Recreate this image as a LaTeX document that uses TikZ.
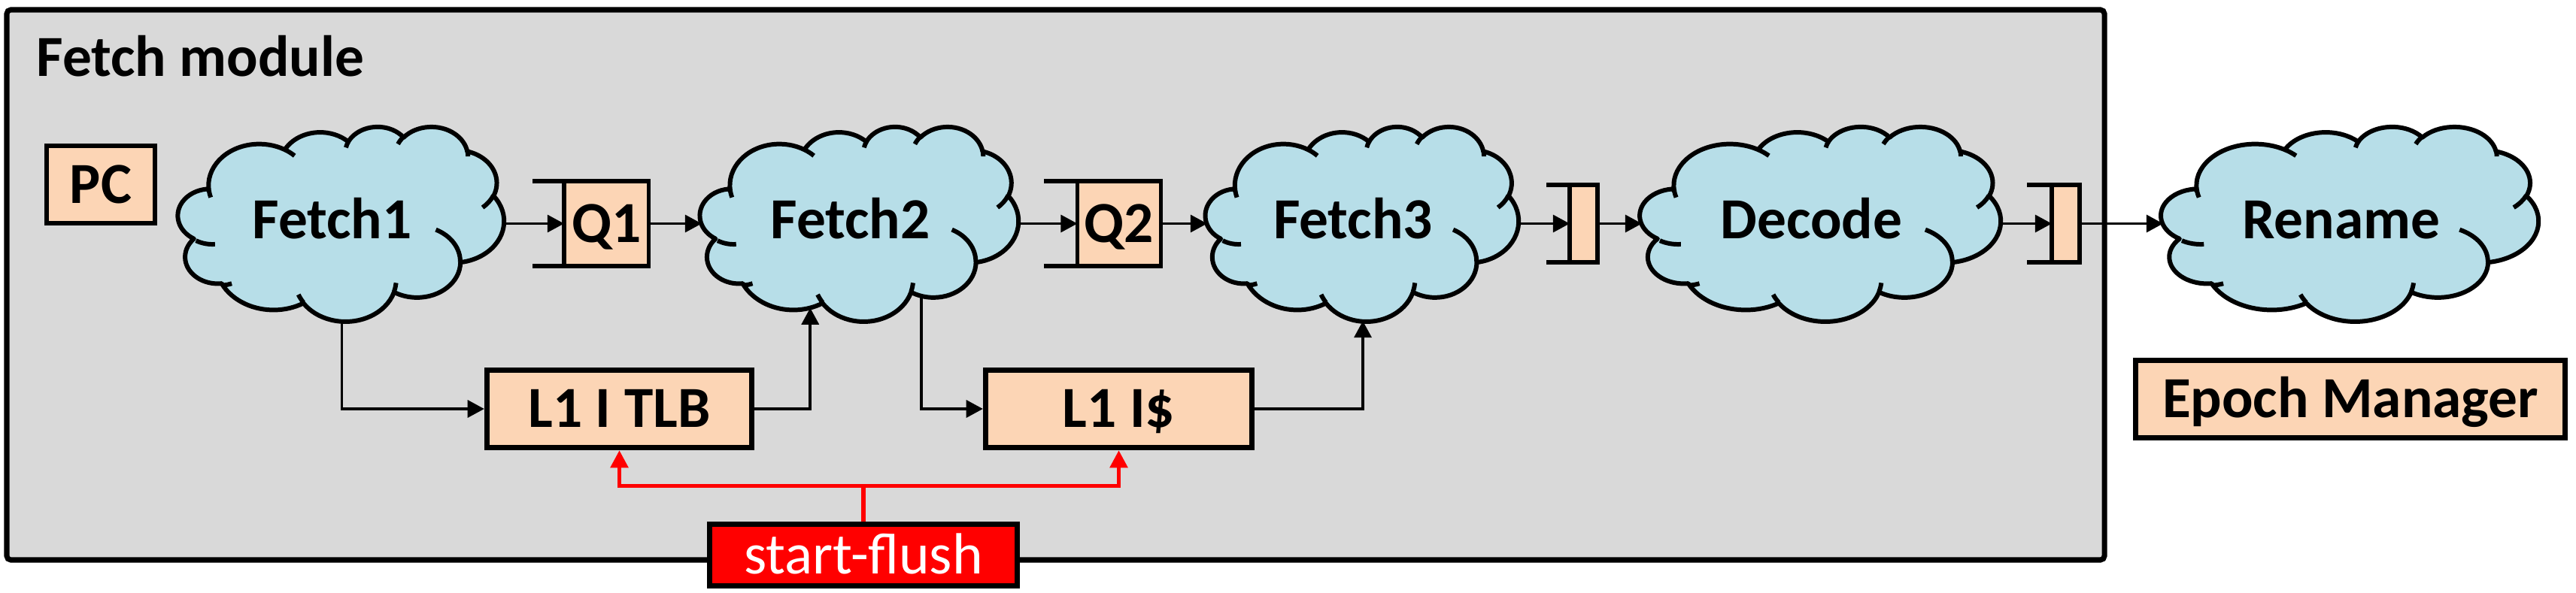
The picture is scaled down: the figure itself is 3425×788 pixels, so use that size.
\documentclass[tikz,border=0pt]{standalone}
\usepackage{fontspec}
\setmainfont{Carlito}
\usetikzlibrary{arrows.meta}
\definecolor{cloudfill}{RGB}{183,222,232}
\definecolor{boxfill}{RGB}{252,213,181}
\definecolor{bggray}{RGB}{217,217,217}
\definecolor{flushred}{RGB}{255,0,0}

% arc in DrawingML style: wR, hR, start angle, sweep (visual angles, degrees)
\newcommand\pparc[4]{%
  \pgfextra{%
    \pgfmathsetmacro\ppTa{atan2((#1)*sin(#3),(#2)*cos(#3))}%
    \pgfmathsetmacro\ppTb{atan2((#1)*sin((#3)+(#4)),(#2)*cos((#3)+(#4)))}%
    \pgfmathsetmacro\ppTb{\ppTb+360*(\ppTb<\ppTa)}%
    \global\let\ppTa\ppTa \global\let\ppTb\ppTb}%
  arc[start angle=\ppTa, end angle=\ppTb, x radius=#1, y radius=#2]}

\newcommand\ppcloudpath{(3.900,14.370)
  \pparc{6.753}{9.190}{-190.48748}{123.78053}
  \pparc{5.333}{7.267}{-144.10238}{89.94523}
  \pparc{4.365}{5.945}{-145.80792}{99.72302}
  \pparc{4.857}{6.595}{-130.98607}{117.24173}
  \pparc{5.333}{7.273}{-78.70888}{109.02692}
  \pparc{6.775}{9.220}{-46.26725}{130.269}
  \pparc{5.785}{7.867}{0.62502}{114.03333}
  \pparc{6.752}{9.215}{22.4516}{115.17255}
  \pparc{7.720}{10.543}{66.24263}{79.8114}
  \pparc{4.360}{5.918}{-274.94208}{146.73557}
  \pparc{4.345}{5.945}{-246.8285}{152.51885} -- cycle}

\newcommand\ppcloudhooks{(4.693,26.177) \pparc{4.345}{5.945}{86.742}{26.4295}
  (6.928,34.899) \pparc{4.360}{5.918}{73.61047}{11.44747}
  (16.478,39.090) \pparc{6.752}{9.215}{137.62415}{14.0811}
  (28.827,34.751) \pparc{6.752}{9.215}{6.45327}{15.99835}
  (34.129,22.954) \pparc{5.785}{7.867}{-70.29235}{70.91737}
  (41.798,15.354) \pparc{5.333}{7.273}{30.31803}{27.7515}
  (38.324,5.426) \pparc{4.857}{6.595}{-13.74433}{14.8589}
  (29.078,3.952) \pparc{4.857}{6.595}{-149.18145}{18.19537}
  (22.141,4.720) \pparc{4.365}{5.945}{-163.49427}{17.68635}
  (14.000,5.192) \pparc{6.753}{9.190}{-66.70695}{12.31935}
  (4.127,15.789) \pparc{6.753}{9.190}{157.65435}{11.85817}}

% name, left, top, width, height, label  (pixels, y down)
\newcommand\pcloud[6]{%
  \pgfmathsetmacro\pcw{#4*0.01/43.2}%
  \pgfmathsetmacro\pch{#5*0.01/43.2}%
  \begin{scope}[shift={(#2,#3)}, x=1cm, y=1cm, xscale=\pcw, yscale=-\pch]
    \draw[cloudline, fill=cloudfill] \ppcloudpath;
    \draw[cloudline] \ppcloudhooks;
    \coordinate (#1-bl) at (14.8,40.3);
    \coordinate (#1-br) at (30.0,37.7);
  \end{scope}
  \node[cloudframe, minimum width=#4*0.01cm, minimum height=#5*0.01cm] (#1) at (#2+#4/2,#3+#5/2) {};
  \node[lbl] (#1-t) at (#2+#4/2-13,#3+#5/2-4.5) {#6};
}

\begin{document}
\begin{tikzpicture}[x=0.01cm, y=-0.01cm,
  cloudline/.style={line width=1.7pt, line join=round},
  cloudframe/.style={draw=none, inner sep=0pt, outer sep=0pt},
  lbl/.style={font=\bfseries\fontsize{22pt}{26pt}\selectfont, text height=14.2pt, text depth=0pt, inner sep=0pt},
  regbox/.style={draw, line width=1.55pt, fill=boxfill, inner sep=0pt, outer sep=0pt, lbl},
  unitbox/.style={draw, line width=2pt, fill=boxfill, inner sep=0pt, lbl},
  flushbox/.style={draw, line width=2pt, fill=flushred, text=white, inner sep=0pt, font=\fontsize{22pt}{26pt}\selectfont, text height=14.2pt, text depth=0pt},
  conn/.style={line width=1.1pt, -{Triangle[length=6.3pt,width=6.5pt]}},
  flushconn/.style={line width=1.6pt, draw=flushred, -{Triangle[length=6.6pt,width=6.5pt]}},
  bracket/.style={line width=1.55pt},
]
\useasboundingbox (0,0) rectangle (3425,788);
\draw[line width=2pt, fill=bggray, rounded corners=1.5pt] (9,13) rectangle (2798,745);
\node[lbl, anchor=base west] (title) at (48,102) {Fetch module};

\node[regbox, line width=1.7pt, minimum width=1.44cm, minimum height=1.03cm] (pc) at (134,245.5) {PC};

\pcloud{f1}{239}{168}{431}{259}{Fetch1}
\pcloud{f2}{933}{168}{421}{259}{Fetch2}
\pcloud{f3}{1605}{168}{414}{259}{Fetch3}
\pcloud{dec}{2183}{168}{477}{259}{Decode}
\pcloud{ren}{2876}{168}{499}{259}{Rename}

\node[regbox, minimum width=1.125cm, minimum height=1.125cm] (q1) at (806.25,297.5) {Q1};
\draw[bracket] (q1.north west) -- ++(-42,0);
\draw[bracket] (q1.south west) -- ++(-42,0);
\node[regbox, minimum width=1.11cm, minimum height=1.125cm] (q2) at (1488,297.5) {Q2};
\draw[bracket] (q2.north west) -- ++(-44,0);
\draw[bracket] (q2.south west) -- ++(-44,0);
\node[regbox, minimum width=0.37cm, minimum height=1.03cm] (r1) at (2105.5,297.5) {};
\draw[bracket] (r1.north west) -- ++(-31,0);
\draw[bracket] (r1.south west) -- ++(-31,0);
\node[regbox, minimum width=0.37cm, minimum height=1.03cm] (r2) at (2746.5,297.5) {};
\draw[bracket] (r2.north west) -- ++(-33,0);
\draw[bracket] (r2.south west) -- ++(-33,0);

\node[unitbox, minimum width=3.52cm, minimum height=1.03cm] (tlb) at (823.5,544) {L1 I TLB};
\node[unitbox, minimum width=3.54cm, minimum height=1.03cm] (ic) at (1487.5,544) {L1 I\$};
\node[unitbox, minimum width=5.71cm, minimum height=1.03cm] (em) at (3125,531) {Epoch Manager};
\node[flushbox, minimum width=4.09cm, minimum height=0.82cm] (sf) at (1148,738.5) {start-flush};

\draw[conn] (f1.east) -- (q1.west);
\draw[conn] (q1.east) -- (f2.west);
\draw[conn] (f2.east) -- (q2.west);
\draw[conn] (q2.east) -- (f3.west);
\draw[conn] (f3.east) -- (r1.west);
\draw[conn] (r1.east) -- (dec.west);
\draw[conn] (dec.east) -- (r2.west);
\draw[conn] (r2.east) -- (ren.west);

\draw[conn] (f1.south) |- (tlb.west);
\draw[conn] (tlb.east) -| (f2-bl);
\draw[conn] (f2-br) |- (ic.west);
\draw[conn] (ic.east) -| (f3.south);

\coordinate (fj) at (1148,646.5);
\draw[flushconn, -] (sf.north) -- (fj);
\draw[flushconn] (fj) -| (tlb.south);
\draw[flushconn] (fj) -| (ic.south);
\end{tikzpicture}
\end{document}
